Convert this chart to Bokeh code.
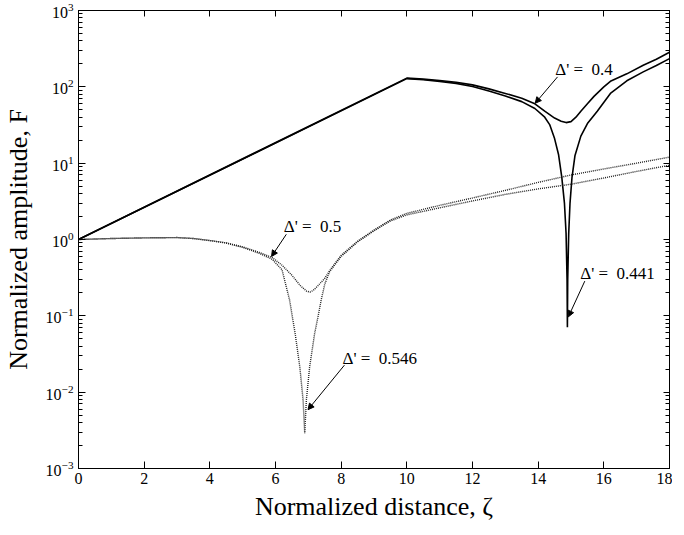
from bokeh.plotting import figure
from bokeh.models import (LinearAxis, Arrow, NormalHead, Label,
                          FixedTicker, CustomJSTickFormatter)
from bokeh.embed import file_html
from bokeh.resources import INLINE

# ---------------- data ----------------
x_04 = [0, 10, 10.5, 11, 11.5, 12, 12.5, 13, 13.5, 13.9, 14.2, 14.5, 14.7,
        14.85, 15.0, 15.15, 15.3, 15.5, 15.7, 16.0, 16.2, 16.7, 17.2, 17.6, 18]
F_04 = [1, 130, 126, 121, 115, 106, 94, 82, 71, 60, 48, 39, 35.5,
        34, 35, 40, 48, 60, 75, 100, 118, 148, 192, 230, 284]

x_0441 = [0, 10, 10.5, 11, 11.5, 12, 12.5, 13, 13.5, 13.9, 14.2, 14.35, 14.5,
          14.62, 14.72, 14.8, 14.85, 14.88, 14.89, 14.9, 14.93, 14.97, 15.03,
          15.12, 15.3, 15.5, 15.8, 16.2, 16.7, 17.2, 17.6, 18]
F_0441 = [1, 128, 124, 118, 111, 101, 88, 76, 64, 52, 40, 32, 21,
          13, 6.5, 3.0, 1.2, 0.3, 0.071, 0.3, 1.2, 3.0, 6.5,
          12.5, 22.6, 33, 48, 82, 120, 157, 190, 234]

x_05 = [0, 1, 2, 3, 3.5, 4, 4.5, 5, 5.5, 5.9, 6.2, 6.5, 6.75, 6.95, 7.05,
        7.15, 7.3, 7.5, 7.7, 8, 8.5, 9, 9.5, 10, 11, 12, 13, 14, 15, 16, 17, 18]
F_05 = [1, 1.03, 1.05, 1.06, 1.03, 0.97, 0.9, 0.8, 0.68, 0.58, 0.46, 0.34,
        0.25, 0.21, 0.205, 0.215, 0.25, 0.31, 0.42, 0.62, 0.95, 1.33, 1.8,
        2.2, 2.8, 3.5, 4.4, 5.6, 7.0, 8.4, 10, 12]

x_0546 = [0, 1, 2, 3, 3.5, 4, 4.5, 5, 5.5, 5.9, 6.2, 6.43, 6.6, 6.74, 6.84,
          6.89, 6.94, 7.04, 7.19, 7.3, 7.39, 7.5, 7.65, 8, 8.5, 9, 9.5, 10,
          11, 12, 13, 14, 15, 16, 17, 18]
F_0546 = [1, 1.03, 1.05, 1.06, 1.03, 0.97, 0.9, 0.79, 0.66, 0.55, 0.4, 0.16,
          0.058, 0.0215, 0.0079, 0.0029, 0.0079, 0.0215, 0.058, 0.1, 0.16,
          0.26, 0.38, 0.6, 0.93, 1.3, 1.75, 2.1, 2.6, 3.2, 3.9, 4.6, 5.3,
          6.4, 7.8, 9.4]

x_ticks = [0, 2, 4, 6, 8, 10, 12, 14, 16, 18]
y_ticks = [1e-3, 1e-2, 1e-1, 1e0, 1e1, 1e2, 1e3]
y_minor = [m * d for d in [1e-3, 1e-2, 1e-1, 1e0, 1e1, 1e2] for m in range(2, 10)]

x_title = "Normalized distance, \u03b6"
y_title = "Normalized amplitude, F"

ann_text = ["\u0394' =\u00a0 0.4", "\u0394' =\u00a0 0.441",
            "\u0394' =\u00a0 0.5", "\u0394' =\u00a0 0.546"]
ann_tx = [14.52, 15.28, 6.25, 8.04]
ann_ty = [170, 0.358, 1.48, 0.0277]
arr_x0 = [14.59, 15.42, 6.33, 8.10]
arr_y0 = [135, 0.285, 1.17, 0.0226]
arr_x1 = [13.91, 14.92, 5.88, 6.99]
arr_y1 = [61, 0.097, 0.60, 0.0059]

FONT = "Liberation Serif"

p = figure(width=672, height=527, x_range=(0, 18), y_range=(1e-3, 1e3),
           y_axis_type="log", output_backend="svg", toolbar_location=None,
           min_border_left=75, min_border_right=3, min_border_top=10,
           min_border_bottom=59)
p.grid.visible = False
p.outline_line_color = "black"
p.outline_line_width = 1

p.line(x_04, F_04, line_color="black", line_width=1.6)
p.line(x_0441, F_0441, line_color="black", line_width=1.6)
p.line(x_05, F_05, line_color="#222222", line_width=1.4, line_dash="1 1")
p.line(x_0546, F_0546, line_color="#222222", line_width=1.4, line_dash="1 1")

for t, tx, ty, x0, y0, x1, y1 in zip(ann_text, ann_tx, ann_ty, arr_x0, arr_y0, arr_x1, arr_y1):
    p.add_layout(Label(x=tx, y=ty, text=t, text_font=FONT, text_font_size="17px",
                       text_baseline="middle", text_align="left", text_color="black"))
    p.add_layout(Arrow(end=NormalHead(size=6, fill_color="black", line_color="black"),
                       x_start=x0, y_start=y0, x_end=x1, y_end=y1,
                       line_color="black", line_width=1))

xa = p.xaxis[0]
xa.ticker = FixedTicker(ticks=x_ticks)
xa.axis_label = x_title
ya = p.yaxis[0]
ya.ticker = FixedTicker(ticks=y_ticks, minor_ticks=y_minor)
ya.axis_label = y_title

for ax in (xa, ya):
    ax.axis_line_color = "black"
    ax.major_tick_line_color = "black"
    ax.minor_tick_line_color = "black"
    ax.major_tick_in = 7
    ax.major_tick_out = 0
    ax.minor_tick_in = 4
    ax.minor_tick_out = 0
    ax.major_label_text_font = FONT
    ax.major_label_text_font_size = "16px"
    ax.major_label_text_color = "black"
    ax.axis_label_text_font = FONT
    ax.axis_label_text_font_size = "26px"
    ax.axis_label_text_font_style = "normal"
    ax.axis_label_text_color = "black"
xa.minor_tick_line_color = None
xa.major_label_standoff = 4
xa.axis_label_standoff = 5
ya.major_label_standoff = 5
ya.axis_label_standoff = 10

# mirrored axes (ticks only, no labels)
top = LinearAxis(ticker=FixedTicker(ticks=x_ticks),
                 formatter=CustomJSTickFormatter(code="return ''"))
right = LinearAxis(ticker=FixedTicker(ticks=y_ticks, minor_ticks=y_minor),
                   formatter=CustomJSTickFormatter(code="return ''"))
for ax in (top, right):
    ax.axis_line_color = "black"
    ax.major_tick_in = 6
    ax.major_tick_out = 0
    ax.minor_tick_in = 4
    ax.minor_tick_out = 0
    ax.major_label_text_font_size = "1px"
    ax.major_label_standoff = 0
top.minor_tick_line_color = None
p.add_layout(top, "above")
p.add_layout(right, "right")

open("out.html", "w").write(file_html(p, INLINE))
